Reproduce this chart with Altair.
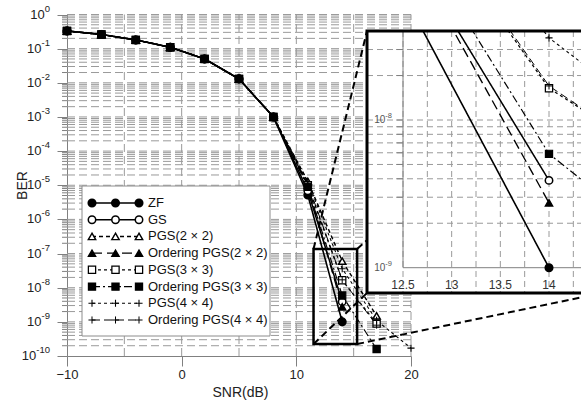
import altair as alt
import pandas as pd

# ---------------- data ----------------
series = ["ZF", "GS", "PGS(2 × 2)", "Ordering PGS(2 × 2)", "PGS(3 × 3)",
          "Ordering PGS(3 × 3)", "PGS(4 × 4)", "Ordering PGS(4 × 4)"]

snr_common = [-10, -7, -4, -1, 2, 5, 8]
ber_common = [0.33, 0.26, 0.18, 0.11, 0.05, 0.013, 1.0e-3]

snr_zf = [11, 14];          ber_zf = [5.2e-6, 1.0e-9]
snr_gs = [11, 14];          ber_gs = [6.9e-6, 3.9e-9]
snr_pgs2 = [11, 14, 17];    ber_pgs2 = [1.3e-5, 6.0e-8, 1.5e-9]
snr_opgs2 = [11, 14];       ber_opgs2 = [1.0e-5, 2.75e-9]
snr_pgs3 = [11, 14, 17];    ber_pgs3 = [1.0e-5, 1.64e-8, 9.0e-10]
snr_opgs3 = [11, 14, 17];   ber_opgs3 = [9.0e-6, 5.9e-9, 1.6e-10]
snr_pgs4 = [11, 14, 17, 20]; ber_pgs4 = [1.26e-5, 3.6e-8, 1.1e-9, 1.7e-10]
snr_opgs4 = [11, 14, 17];   ber_opgs4 = [1.1e-5, 1.7e-8, 8.0e-10]

tails = [(snr_zf, ber_zf), (snr_gs, ber_gs), (snr_pgs2, ber_pgs2), (snr_opgs2, ber_opgs2),
         (snr_pgs3, ber_pgs3), (snr_opgs3, ber_opgs3), (snr_pgs4, ber_pgs4), (snr_opgs4, ber_opgs4)]

x_ticks = [-10, 0, 10, 20]
x_grid = [-5, 0, 5, 10, 15, 20]
y_exponents = list(range(0, -11, -1))
y_major = [10.0 ** e for e in y_exponents]
y_minor = [m * 10.0 ** -k for k in range(1, 11) for m in range(2, 10)]

box_snr = [11.5, 15.3]
box_ber = [1.36e-7, 2.24e-10]

inset_snr = [12.5, 14.0]
inset_ber = [1e-9, 1e-8]
inset_x_ticks = [12.5, 13.0, 13.5, 14.0]
inset_x_labels = ["12.5", "13", "13.5", "14"]
inset_x_grid = [12.5, 12.75, 13.0, 13.25, 13.5, 13.75, 14.0, 14.25]
inset_y_grid = [m * 1e-9 for m in range(2, 10)] + [1e-8, 2e-8, 3e-8, 4e-8]
inset_y_ticks = [1e-8, 1e-9]
inset_y_exps = ["-8", "-9"]

# ---------------- tables ----------------
rows = []
for i, (s, (ts, tb)) in enumerate(zip(series, tails)):
    for x, y in zip(snr_common + ts, ber_common + tb):
        rows.append({"series": s, "snr": x, "ber": y, "k": i})
df = pd.DataFrame(rows)

# ---------------- styles ----------------
FONT = "Liberation Sans"
GRID = "#9a9a9a"
AX = "#808080"
PLUS = "M-1,0H1M0,-1V1"
dash_list = [[1, 0], [1, 0], [4, 3], [10, 5], [3, 3], [8, 3, 2, 3], [3, 3], [8, 4]]
width_list = [1.6, 1.0, 1.0, 1.8, 1.0, 1.5, 1.0, 1.8]
shape_list = ["circle", "circle", "triangle-up", "triangle-up", "square", "square", PLUS, PLUS]
fill_list = ["black", "white", "white", "black", "white", "black", "transparent", "transparent"]
mwidth_list = [1, 1, 1, 1, 1, 1, 1, 3]
size_list = [56, 50, 45, 50, 45, 56, 70, 70]

W, H = 514, 325
xm = alt.Scale(domain=[-10, 20], range=[0, 344], nice=False, zero=False)
ym = alt.Scale(type="log", domain=[1e-10, 1], range=[325, -16.5], nice=False)
xi = alt.Scale(domain=inset_snr, range=[336, 482], nice=False, zero=False)
yi = alt.Scale(type="log", domain=inset_ber, range=[236.7, 89], nice=False)
IN_L, IN_R, IN_T, IN_B = 300, 535, 0, 262

sd = alt.StrokeDash("series:N", scale=alt.Scale(domain=series, range=dash_list), legend=None)
sw = alt.StrokeWidth("series:N", scale=alt.Scale(domain=series, range=width_list), legend=None)
shp = alt.Shape("series:N", scale=alt.Scale(domain=series, range=shape_list), legend=None)
fil = alt.Fill("series:N", scale=alt.Scale(domain=series, range=fill_list), legend=None)
msw = alt.StrokeWidth("series:N", scale=alt.Scale(domain=series, range=mwidth_list), legend=None)
msz = alt.Size("series:N", scale=alt.Scale(domain=series, range=size_list), legend=None)

x_axis = alt.Axis(values=x_ticks, grid=False, domainColor=AX, tickColor=AX, tickSize=10,
                  labelFontSize=13, labelFont=FONT, labelColor="#222", labelPadding=2,
                  labelFlush=False, title="SNR(dB)", titleFont=FONT, titleFontSize=14,
                  titleFontWeight="normal", titleColor="#222", titleX=173, titleY=36,
                  titleAlign="center", titleBaseline="middle")
y_axis = alt.Axis(values=y_major, labels=False, grid=False, domainColor=AX,
                  tickColor=AX, tickSize=10, title="BER",
                  titleFont=FONT, titleFontSize=14, titleFontWeight="normal", titleColor="#222",
                  titleX=-45, titleY=154, titleAngle=270, titleAlign="center",
                  titleBaseline="middle")

one = pd.DataFrame({"a": [0]})


def exp_width(t, fs):
    return sum(0.333 * fs if c == "-" else 0.556 * fs for c in t)


# y tick labels "10" + raised exponent (right aligned as a whole)
EXP_FS = 9.5
ylab = pd.DataFrame({"v": y_major, "e": [str(e) for e in y_exponents]})
ylab["ex"] = -17.0
ylab["bx"] = [-17.0 - exp_width(t, EXP_FS) for t in ylab["e"]]

IN_EXP_FS = 7.5
ilab = pd.DataFrame({"v": inset_y_ticks, "e": inset_y_exps})
ilab["ex"] = 325.0
ilab["bx"] = [325.0 - exp_width(t, IN_EXP_FS) for t in ilab["e"]]

# ---------------- main plot ----------------
hgrid = alt.Chart(pd.DataFrame({"v": y_major[:-1] + y_minor})).mark_rule(
    color=GRID, strokeDash=[8, 4], strokeWidth=1).encode(
    y=alt.Y("v:Q", scale=ym, axis=None),
    x=alt.XDatum(-10, type="quantitative", scale=xm, axis=None),
    x2=alt.X2Datum(20))

vgrid = alt.Chart(pd.DataFrame({"v": x_grid})).mark_rule(
    color=GRID, strokeDash=[8, 4], strokeWidth=1).encode(
    x=alt.X("v:Q", scale=xm, axis=None),
    y=alt.YDatum(1e-10, type="quantitative", scale=ym, axis=None),
    y2=alt.Y2Datum(1.0))

minor_ticks = alt.Chart(pd.DataFrame({"v": y_minor})).mark_rule(color=AX, strokeWidth=1).encode(
    y=alt.Y("v:Q", scale=ym, axis=None), x=alt.value(-5), x2=alt.value(0))

ylab_base = alt.Chart(ylab).mark_text(font=FONT, fontSize=13, color="#222", align="right",
                                      baseline="middle").encode(
    x=alt.X("bx:Q", scale=None, axis=None), y=alt.Y("v:Q", scale=ym, axis=None),
    text=alt.value("10"))
ylab_exp = alt.Chart(ylab).mark_text(font=FONT, fontSize=EXP_FS, color="#222", align="right",
                                     baseline="middle", dy=-6).encode(
    x=alt.X("ex:Q", scale=None, axis=None), y=alt.Y("v:Q", scale=ym, axis=None),
    text="e:N")

lines_main = alt.Chart(df).mark_line(color="black").encode(
    x=alt.X("snr:Q", scale=xm, axis=x_axis),
    y=alt.Y("ber:Q", scale=ym, axis=y_axis),
    strokeDash=sd, strokeWidth=sw, detail="series:N")

points_main = alt.Chart(df).mark_point(filled=False, opacity=1, stroke="black").encode(
    x=alt.X("snr:Q", scale=xm, axis=None),
    y=alt.Y("ber:Q", scale=ym, axis=None),
    shape=shp, fill=fil, strokeWidth=msw, size=msz, order=alt.Order("k:Q"))

zoom_box = alt.Chart(pd.DataFrame({"x1": [box_snr[0]], "x2": [box_snr[1]],
                                   "y1": [box_ber[0]], "y2": [box_ber[1]]})).mark_rect(
    fill="transparent", stroke="black", strokeWidth=2.5).encode(
    x=alt.X("x1:Q", scale=xm, axis=None), x2="x2:Q",
    y=alt.Y("y1:Q", scale=ym, axis=None), y2="y2:Q")

connectors = []
for bx, by, tx, ty in [(box_snr[0], box_ber[0], IN_L, IN_T),
                       (box_snr[0], box_ber[1], IN_L, IN_B),
                       (box_snr[1], box_ber[1], IN_R, IN_B),
                       (box_snr[1], box_ber[0], IN_R, IN_T)]:
    connectors.append(alt.Chart(one).mark_rule(color="black", strokeWidth=2, strokeDash=[7, 4]).encode(
        x=alt.XDatum(bx, type="quantitative", scale=xm, axis=None),
        y=alt.YDatum(by, type="quantitative", scale=ym, axis=None),
        x2=alt.value(tx), y2=alt.value(ty)))

# ---------------- legend ----------------
leg_df = pd.DataFrame([{"series": s, "slot": j, "k": i} for i, s in enumerate(series) for j in range(3)])
ly = alt.Scale(type="point", domain=series, range=[172, 289], padding=0)
lx = alt.Scale(domain=[0, 2], range=[25, 72], nice=False, zero=False)

leg_box = alt.Chart(one).mark_rect(fill="white", stroke="#8c8c8c", strokeWidth=1).encode(
    x=alt.value(15), x2=alt.value(203), y=alt.value(155), y2=alt.value(305))
leg_lines = alt.Chart(leg_df).mark_line(color="black").encode(
    x=alt.X("slot:Q", scale=lx, axis=None), y=alt.Y("series:N", scale=ly, axis=None),
    strokeDash=sd, strokeWidth=sw, detail="series:N")
leg_points = alt.Chart(leg_df).mark_point(filled=False, opacity=1, stroke="black").encode(
    x=alt.X("slot:Q", scale=lx, axis=None), y=alt.Y("series:N", scale=ly, axis=None),
    shape=shp, fill=fil, strokeWidth=msw, size=msz)
leg_text = alt.Chart(leg_df).transform_filter("datum.slot == 2").mark_text(
    align="left", baseline="middle", font=FONT, fontSize=13, color="#111").encode(
    x=alt.value(81), y=alt.Y("series:N", scale=ly, axis=None), text="series:N")

# ---------------- inset ----------------
inset_bg = alt.Chart(one).mark_rect(fill="white").encode(
    x=alt.value(IN_L), x2=alt.value(IN_R), y=alt.value(IN_T), y2=alt.value(IN_B))
in_vgrid = alt.Chart(pd.DataFrame({"v": inset_x_grid})).mark_rule(
    color=GRID, strokeDash=[6, 4], strokeWidth=1).encode(
    x=alt.X("v:Q", scale=xi, axis=None), y=alt.value(IN_T), y2=alt.value(IN_B))
in_hgrid = alt.Chart(pd.DataFrame({"v": inset_y_grid})).mark_rule(
    color=GRID, strokeDash=[6, 4], strokeWidth=1).encode(
    y=alt.Y("v:Q", scale=yi, axis=None), x=alt.value(IN_L), x2=alt.value(IN_R))
in_xaxis = alt.Chart(one).mark_rule(color=AX, strokeWidth=1).encode(
    y=alt.YDatum(inset_ber[0], type="quantitative", scale=yi, axis=None),
    x=alt.XDatum(inset_snr[0], type="quantitative", scale=xi, axis=None),
    x2=alt.value(IN_R))
in_yaxis = alt.Chart(one).mark_rule(color=AX, strokeWidth=1).encode(
    x=alt.XDatum(inset_snr[0], type="quantitative", scale=xi, axis=None),
    y=alt.YDatum(inset_ber[0], type="quantitative", scale=yi, axis=None),
    y2=alt.value(IN_T))
in_yticks = alt.Chart(pd.DataFrame({"v": inset_y_grid})).mark_rule(color=AX, strokeWidth=1).encode(
    y=alt.Y("v:Q", scale=yi, axis=None),
    x=alt.XDatum(inset_snr[0], type="quantitative", scale=xi, axis=None),
    x2=alt.X2Datum(12.43))
in_xlabels = alt.Chart(pd.DataFrame({"v": inset_x_ticks, "t": inset_x_labels})).mark_text(
    font=FONT, fontSize=12, color="#333", baseline="middle").encode(
    x=alt.X("v:Q", scale=xi, axis=None), y=alt.value(254), text="t:N")
in_ylab_base = alt.Chart(ilab).mark_text(font=FONT, fontSize=10, color="#555", align="right",
                                         baseline="middle").encode(
    x=alt.X("bx:Q", scale=None, axis=None), y=alt.Y("v:Q", scale=yi, axis=None),
    text=alt.value("10"))
in_ylab_exp = alt.Chart(ilab).mark_text(font=FONT, fontSize=IN_EXP_FS, color="#555", align="right",
                                        baseline="middle", dy=-4).encode(
    x=alt.X("ex:Q", scale=None, axis=None), y=alt.Y("v:Q", scale=yi, axis=None),
    text="e:N")
in_lines = alt.Chart(df).mark_line(color="black", clip=True).encode(
    x=alt.X("snr:Q", scale=xi, axis=None), y=alt.Y("ber:Q", scale=yi, axis=None),
    strokeDash=sd, strokeWidth=sw, detail="series:N")
in_points = alt.Chart(df).mark_point(filled=False, opacity=1, stroke="black", clip=True).encode(
    x=alt.X("snr:Q", scale=xi, axis=None), y=alt.Y("ber:Q", scale=yi, axis=None),
    shape=shp, fill=fil, strokeWidth=msw, size=msz, order=alt.Order("k:Q"))
inset_border = alt.Chart(one).mark_rect(fill="transparent", stroke="black", strokeWidth=3).encode(
    x=alt.value(IN_L), x2=alt.value(IN_R), y=alt.value(IN_T), y2=alt.value(IN_B))

chart = alt.layer(
    hgrid, vgrid, minor_ticks, ylab_base, ylab_exp, lines_main, points_main, zoom_box, *connectors,
    leg_box, leg_lines, leg_points, leg_text,
    inset_bg, in_vgrid, in_hgrid, in_xaxis, in_yaxis, in_yticks, in_xlabels,
    in_ylab_base, in_ylab_exp, in_lines, in_points, inset_border
).resolve_scale(x="independent", y="independent").properties(
    width=W, height=H,
    autosize=alt.AutoSizeParams(type="none"),
    padding={"left": 67, "top": 31, "right": 0, "bottom": 49},
    background="white"
).configure_view(stroke=None)

chart.save("out.html", embed_options={"renderer": "svg", "actions": False})
